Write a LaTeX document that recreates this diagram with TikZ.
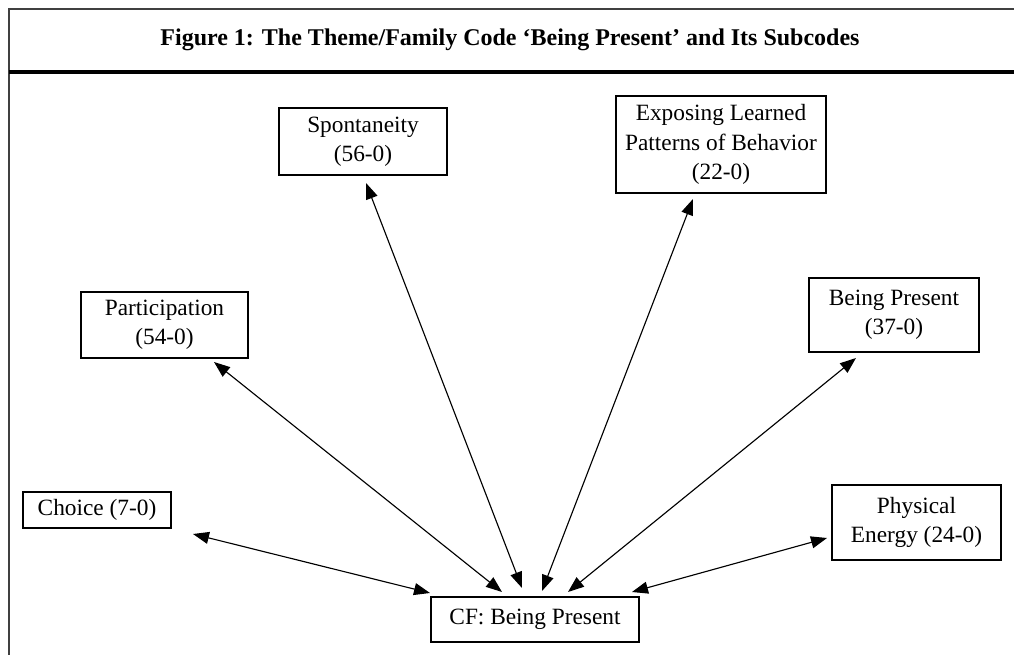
\documentclass[tikz,border=0pt]{standalone}
\usepackage{fontspec}
\setmainfont{Liberation Serif}
\usetikzlibrary{arrows.meta}
\begin{document}
\begin{tikzpicture}[x=0.75pt,y=-0.75pt,
  codebox/.style={draw,line width=0.9pt,align=center,inner sep=0pt,font=\fontsize{17.5}{22}\selectfont},
  link/.style={line width=0.85pt,{Triangle[length=12pt,width=9pt]}-{Triangle[length=12pt,width=9pt]}},
  frame/.style={line width=1.3pt,draw=black!75}]
\useasboundingbox (0,0) rectangle (1014,655);
\draw[frame] (9,655) -- (9,9) -- (1014,9);
\draw[line width=2.4pt] (9,72) -- (1014,72);
\node[font=\bfseries\fontsize{18}{21}\selectfont] (title) at (510,40) {Figure 1: The Theme/Family Code ‘Being Present’ and Its Subcodes};
\node[codebox,minimum width=168*0.75pt,minimum height=67*0.75pt] (spont) at (363,141.5) {Spontaneity\\(56-0)};
\node[codebox,minimum width=210*0.75pt,minimum height=97*0.75pt] (expo) at (721,144.5) {Exposing Learned\\Patterns of Behavior\\(22-0)};
\node[codebox,minimum width=167*0.75pt,minimum height=66*0.75pt] (part) at (164.5,325) {Participation\\(54-0)};
\node[codebox,minimum width=170*0.75pt,minimum height=74*0.75pt] (being) at (894,315) {Being Present\\(37-0)};
\node[codebox,minimum width=148*0.75pt,minimum height=36*0.75pt] (choice) at (97,510) {Choice (7-0)};
\node[codebox,minimum width=169*0.75pt,minimum height=75*0.75pt] (phys) at (916.5,522.5) {Physical\\Energy (24-0)};
\node[codebox,minimum width=208*0.75pt,minimum height=45*0.75pt] (cf) at (535,619.5) {CF: Being Present};
\coordinate (c1) at (193,534); \coordinate (d1) at (430,593);
\coordinate (c2) at (214,362); \coordinate (d2) at (502,592);
\coordinate (c3) at (366,183); \coordinate (d3) at (522,588);
\coordinate (c4) at (693,199); \coordinate (d4) at (542,591);
\coordinate (c5) at (856,358); \coordinate (d5) at (568,592);
\coordinate (c6) at (827,538); \coordinate (d6) at (632,592);
\draw[link] (c1) -- (d1);
\draw[link] (c2) -- (d2);
\draw[link] (c3) -- (d3);
\draw[link] (c4) -- (d4);
\draw[link] (c5) -- (d5);
\draw[link] (c6) -- (d6);
\end{tikzpicture}
\end{document}
